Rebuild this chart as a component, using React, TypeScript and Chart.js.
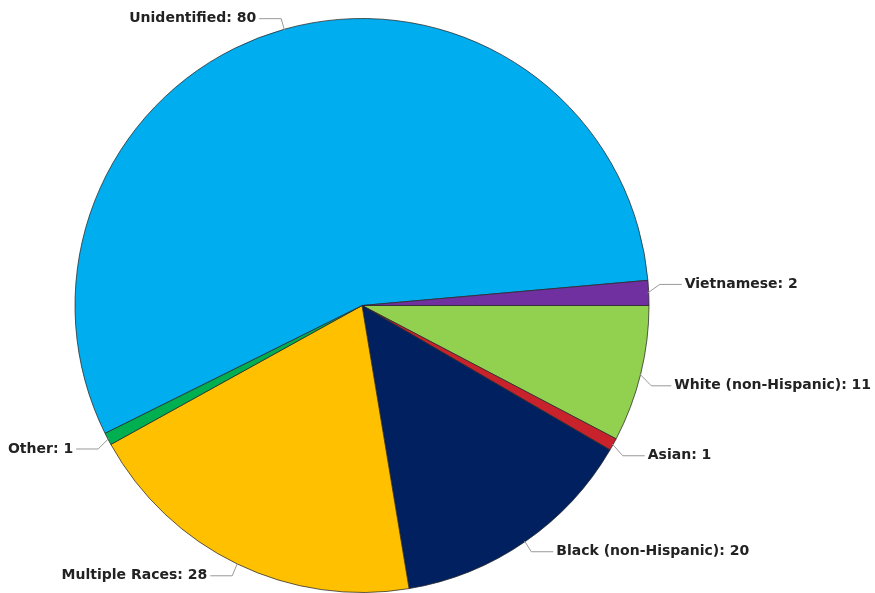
import React, { useEffect, useRef } from "react";
import { Chart, registerables } from "chart.js";

Chart.register(...registerables);

const categories = [
  "White (non-Hispanic)",
  "Asian",
  "Black (non-Hispanic)",
  "Multiple Races",
  "Other",
  "Unidentified",
  "Vietnamese",
];
const counts = [11, 1, 20, 28, 1, 80, 2];
const colors = ["#92D050", "#C8232C", "#002060", "#FFC000", "#00B050", "#00AEEF", "#7030A0"];
// vertical nudges for label placement (px)
const labelDy = [9, 6, 1, 2, 5, 0, -8];
const labelDx = [-2, 0, 0, 0, 0, 0, 0];

const labelPlugin = {
  id: "leaderLabels",
  afterDatasetsDraw(chart: any) {
    const ctx = chart.ctx;
    const meta = chart.getDatasetMeta(0);
    ctx.save();
    ctx.font = "bold 14px 'DejaVu Sans', Verdana, sans-serif";
    ctx.textBaseline = "middle";
    meta.data.forEach((arc: any, i: number) => {
      const { x, y, startAngle, endAngle, outerRadius } = arc.getProps(
        ["x", "y", "startAngle", "endAngle", "outerRadius"],
        true
      );
      const mid = (startAngle + endAngle) / 2;
      const c = Math.cos(mid);
      const s = Math.sin(mid);
      const x0 = x + c * (outerRadius - 1);
      const y0 = y + s * (outerRadius - 1);
      const ex = x + c * (outerRadius + 11);
      const ey = y + s * (outerRadius + 11) + labelDy[i];
      const dir = c >= 0 ? 1 : -1;
      const hx = ex + dir * 22 + labelDx[i];
      ctx.strokeStyle = "#999";
      ctx.lineWidth = 1;
      ctx.beginPath();
      ctx.moveTo(x0, y0);
      ctx.lineTo(ex, ey);
      ctx.lineTo(hx, ey);
      ctx.stroke();
      ctx.fillStyle = "#222";
      ctx.textAlign = dir > 0 ? "left" : "right";
      ctx.fillText(`${categories[i]}: ${counts[i]}`, hx + dir * 3, ey);
    });
    ctx.restore();
  },
};

export default function App() {
  const ref = useRef<HTMLCanvasElement>(null);
  useEffect(() => {
    const chart = new Chart(ref.current!, {
      type: "pie",
      data: {
        labels: categories,
        datasets: [
          {
            data: counts,
            backgroundColor: colors,
            borderColor: "rgba(40,40,40,0.75)",
            borderWidth: 1,
          },
        ],
      },
      options: {
        responsive: false,
        animation: false,
        rotation: 90,
        layout: { padding: { top: 18, bottom: 0, left: 0, right: 151 } },
        plugins: {
          legend: { display: false },
          tooltip: { enabled: false },
        },
      },
      plugins: [labelPlugin],
    });
    return () => chart.destroy();
  }, []);
  return (
    <div style={{ position: "fixed", left: 0, top: 0, width: 875, height: 593, background: "#fff" }}>
      <canvas ref={ref} width={875} height={593} style={{ width: 875, height: 593 }} />
    </div>
  );
}
